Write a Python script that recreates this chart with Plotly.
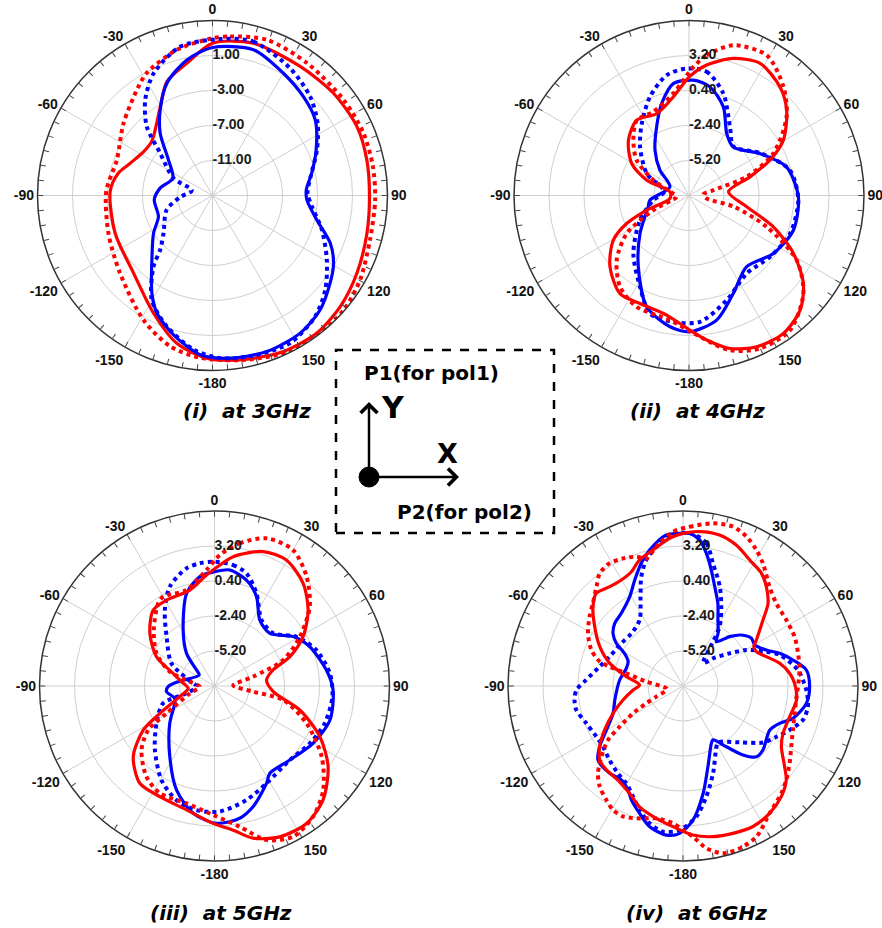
import plotly.graph_objects as go

# ---------------- data (theta in degrees, gain in dB) ----------------
# Panel (i) 3 GHz
p1_blue_solid_th = [-10.7, 0, 15.7, 30.1, 42.6, 53.6, 66.2, 77.3, 86.5, 92.6, 103.1, 112, 119.2, 126.7, 136.7, 147.5, 160.8, 173.8, -175.6, -164.4, -154.7, -148.2, -136.7, -122.6, -111.3, -94.2, -82, -66.4, -51, -40, -31.4, -22]
p1_blue_solid_r = [0.77, 1.91, 2.30, 1.15, 0.35, -0.41, -2.05, -3.38, -4.26, -4.2, -2.77, -0.49, 0.85, 1.76, 2.94, 3.65, 3.88, 3.7, 3.25, 1.53, -0.14, -1.86, -4.9, -7.0, -8.37, -8.33, -8.95, -10.05, -8.52, -5.7, -3.53, -1.13]
p1_blue_dot_th = [2.8, 14.9, 31.4, 44.6, 55.4, 66.4, 79, 88.6, 96.3, 107.4, 119.4, 129.9, 139.7, 152.3, 165.7, 177.3, -173, -160.8, -149.8, -140.3, -136, -127.5, -107.4, -93, -76, -66, -51, -43.6, -35.1, -25.7, -12.2]
p1_blue_dot_r = [2.9, 3.2, 2.03, 0.89, -0.41, -1.97, -3.57, -4.14, -3.57, -1.9, 0.0, 1.8, 3.13, 4.05, 3.9, 3.6, 2.75, 0.85, -1.2, -4.45, -6.4, -7.95, -9.5, -11.3, -12.56, -10.1, -7.3, -4.1, -1.63, 0.5, 2.41]
p1_red_solid_th = [0, 15, 34.2, 49.8, 64.5, 77, 90, 103.7, 118.3, 131, 142.8, 155.5, 170.4, -178, -166.4, -153.4, -134.5, -111.2, -87.6, -76.6, -68.6, -57.5, -48.3, -31.7, -21.8, -11]
p1_red_solid_r = [2.41, 3.02, 2.83, 3.1, 3.29, 3.1, 2.94, 3.17, 3.74, 4.35, 4.73, 4.58, 4.05, 3.6, 2.37, 0.05, -2.35, -3.07, -3.3, -3.95, -4.9, -5.67, -5.7, -3.5, -0.98, 0.4]
p1_red_dot_th = [0, 6.3, 19.2, 35.5, 53.9, 67.6, 79.7, 91.5, 105.7, 119.7, 131.1, 142, 155, 170, -175.7, -164.3, -151, -130, -109.9, -87.7, -69.6, -50.9, -34.2, -28.2, -13.8]
p1_red_dot_r = [2.98, 3.29, 3.85, 3.6, 3.55, 3.67, 3.63, 3.6, 3.7, 4.43, 4.9, 4.97, 4.8, 4.1, 3.6, 2.9, 1.27, -1.2, -2.35, -2.85, -3.34, -1.9, 0.05, 0.89, 2.14]

# Panel (ii) 4 GHz
p2_blue_solid_th = [2.2, 10.9, 21.2, 31.3, 42.3, 59.4, 73.6, 90.7, 108.4, 124.5, 141, 155.7, 167.5, 179.6, -171.8, -159.2, -144.6, -127.8, -105.6, -96.8, -65.5, -48.9, -36.9, -25.2, -16.5, -8]
p2_blue_solid_r = [1.23, 0.85, -0.4, -2.19, -2.75, -1.41, 0.13, 0.75, 0.8, 0.19, -0.67, 0.6, 2.21, 2.9, 2.61, 1.52, -1.0, -3.04, -4.61, -4.85, -6.32, -4.91, -3.47, -1.92, -0.32, 1.04]
p2_blue_dot_th = [-1, 8.1, 18.6, 30.8, 42.3, 59.4, 75.9, 92.4, 110.6, 127, 143.5, 160.2, 175, -172.9, -161.7, -151.8, -136.2, -116.7, -97.5, -81, -62.5, -45.2, -33.3, -21.6, -10.5]
p2_blue_dot_r = [2.16, 2.0, 0.61, -1.6, -2.7, -1.35, 0.32, 0.75, 0.64, 0.13, -0.24, 0.9, 2.14, 2.19, 1.95, 0.29, -1.57, -3.6, -5.12, -6.0, -4.19, -2.48, -1.12, 0.48, 1.79]
p2_red_solid_th = [0.5, 7.7, 17.9, 28.3, 40, 48.9, 59.6, 66.4, 73, 84.7, 101, 110.4, 119, 127.6, 135.9, 145.6, 155.9, 165, 173, 179.6, -169.4, -155.6, -144.9, -132, -120.6, -114.2, -109, -99, -79, -70, -60.8, -47.6, -34.8, -21.5, -9]
p2_red_solid_r = [1.55, 2.53, 3.52, 4.0, 3.33, 2.37, 0.75, -0.93, -2.9, -4.83, -3.3, -0.8, 1.55, 3.55, 4.77, 5.37, 5.26, 4.67, 3.65, 2.77, 1.73, 1.49, 1.6, 0.51, -0.96, -2.53, -4.43, -6.45, -6.45, -4.4, -2.75, -1.44, -0.67, -0.96, 0.0]
p2_red_dot_th = [2, 7.2, 16.4, 29, 41, 51.1, 63.5, 72, 77.6, 86, 99.6, 104, 112, 121, 130.6, 143.1, 155.1, 165.2, 178, -171.3, -154.8, -142.9, -131.8, -121.4, -112.4, -96, -84, -66.7, -56, -45.2, -34.8, -23, -8.7]
p2_red_dot_r = [2.3, 3.3, 4.53, 4.83, 3.52, 2.03, -0.45, -3.15, -6.0, -6.85, -6.56, -4.3, -1.3, 2.05, 4.05, 5.47, 5.49, 4.8, 3.04, 2.08, 1.84, 1.15, -0.24, -2.16, -4.9, -7.0, -6.75, -4.9, -2.95, -1.73, -0.67, -0.72, 0.26]

# Panel (iii) 5 GHz
p3_blue_solid_th = [0.2, 7.5, 16.8, 25.2, 34.5, 46.4, 57.9, 67.6, 81.9, 91.9, 106.4, 120.2, 134.5, 147.6, 151.9, 162.2, 169.2, 179.2, -170.5, -159.9, -147.7, -129.9, -113.6, -107, -96.7, -90.8, -83.2, -54.3, -48.4, -40.6, -29.2, -16.8, -7.6]
p3_blue_solid_r = [1.15, 1.36, 0.85, -0.1, -1.6, -1.89, -0.56, 0.24, 1.04, 1.49, 1.63, 1.12, 0.45, 0.27, 0.83, 2.13, 2.77, 2.99, 2.32, 0.85, -1.31, -3.33, -4.53, -4.67, -4.13, -4.29, -5.07, -6.49, -6.08, -4.56, -2.86, -0.27, 0.83]
p3_blue_dot_th = [-0.6, 8.8, 15.9, 24.4, 35.5, 48.1, 59, 70.6, 83.7, 95.2, 108.7, 121, 134.5, 151.9, 164.3, 177.6, -171.7, -161.6, -150.6, -137, -122.8, -108.7, -104.7, -92, -74.7, -62.2, -44.2, -33.2, -24.2, -13.4, -6.8]
p3_blue_dot_r = [1.95, 1.79, 1.36, 0.13, -1.52, -1.68, -0.35, 0.64, 1.28, 1.47, 1.31, 0.9, 0.45, 0.83, 1.47, 2.05, 2.03, 1.63, 0.64, -1.01, -2.48, -3.65, -5.68, -6.56, -5.68, -4.1, -2.5, -0.74, 0.72, 1.68, 1.89]
p3_red_solid_th = [-0.7, 8.2, 19.9, 29.7, 40.8, 50.9, 60.9, 68.7, 74.7, 83.4, 95.5, 105.7, 115.7, 125.4, 136.4, 146.2, 156.6, 165.8, 172.6, -179.4, -167.3, -153.7, -142.5, -131, -121.7, -116.6, -107, -95, -82.5, -73, -63.2, -50.8, -38.9, -29.2, -14.4, -4.1]
p3_red_solid_r = [1.28, 2.45, 3.44, 3.6, 2.85, 1.65, 0.11, -1.52, -3.15, -3.81, -3.28, -0.91, 1.36, 3.15, 4.59, 5.23, 5.15, 4.56, 3.63, 2.99, 2.16, 1.87, 1.81, 0.61, -1.31, -3.12, -5.09, -5.89, -5.33, -4.53, -2.8, -1.33, -0.19, -0.13, -0.08, 0.91]
p3_red_dot_th = [2.3, 10.1, 19.4, 30, 40.1, 50.2, 60, 69.3, 76.4, 88, 98.3, 101.5, 112.1, 123.4, 133.7, 142.9, 152.4, 161.3, 169.8, -179.4, -166.6, -153, -143.1, -131.2, -123.6, -119.7, -106.6, -92.6, -80, -72.2, -60.6, -47.3, -34.3, -29.9, -16.3, -3.9]
p3_red_dot_r = [2.48, 3.6, 4.53, 4.56, 3.44, 1.92, -0.11, -2.13, -4.83, -6.5, -4.88, -2.4, -0.05, 2.27, 4.03, 5.09, 5.6, 5.01, 3.44, 2.32, 1.65, 1.63, 1.07, -0.24, -1.63, -3.57, -5.95, -6.83, -6.0, -4.24, -2.67, -1.39, 0.0, 0.24, 0.0, 1.31]

# Panel (iv) 6 GHz
p4_blue_solid_th = [-1.3, 2.5, 6.5, 10, 13.7, 17.7, 22.9, 27.9, 33.6, 36.9, 43.4, 48.8, 55.1, 60.2, 66.6, 71.3, 76.7, 82.6, 90.3, 98, 106.4, 111.1, 116.9, 128.7, 134, 139, 144.5, 150.9, 153.7, 162.8, 169.4, 175.7, -178.7, -173.6, -166.7, -161.2, -155.6, -152.1, -146.7, -140, -131, -126, -119.9, -111.3, -101.6, -84.6, -72.7, -66.1, -60.8, -57.4, -53, -47.5, -40.3, -30.8, -24.5, -18.8, -13.8, -6.3]
p4_blue_solid_r = [4.21, 4.21, 3.76, 2.77, 1.55, 0.35, -0.83, -2.03, -2.93, -3.57, -2.56, -1.81, -1.33, -1.39, -0.75, 0.16, 1.04, 1.95, 2.13, 1.97, 1.17, 0.29, -0.21, 0.19, 0.16, -0.69, -2.03, -3.07, -2.88, -1.25, 0.75, 2.75, 3.79, 4.0, 3.57, 2.77, 2.0, 1.41, 0.99, 1.12, 1.01, 0.24, -0.93, -2.0, -2.43, -2.91, -3.25, -3.2, -2.64, -1.68, -0.99, -0.59, -0.37, 0.32, 1.31, 2.37, 3.2, 4.16]
p4_blue_dot_th = [3.1, 9.3, 13.7, 20.3, 25.8, 31.7, 34.6, 41.4, 47.3, 55, 60.4, 67.6, 72.2, 82.1, 91.9, 99.4, 105.8, 112.4, 118.5, 125.2, 134.8, 148.1, 151.2, 161, 168.1, 174.2, -178.7, -172.2, -166.4, -160.7, -155.7, -149.8, -143.3, -135.3, -127.2, -120.3, -111.1, -102.7, -97.4, -92.1, -86.4, -76.9, -68.2, -55.3, -44.5, -33.3, -25.4, -20.9, -16.2, -10.8, -5]
p4_blue_dot_r = [4.24, 3.57, 2.11, 0.48, -0.96, -2.43, -4.0, -5.57, -4.75, -3.44, -2.16, -0.8, 0.13, 1.28, 1.87, 2.13, 1.97, 1.23, 0.51, -0.16, -1.6, -2.69, -2.45, -0.61, 1.04, 2.51, 3.52, 3.76, 3.31, 2.51, 1.71, 1.01, 0.72, 0.35, 0.03, 0.03, 0.29, 0.75, 0.75, 0.53, -0.24, -1.15, -1.68, -2.0, -2.11, -1.68, -0.08, 1.36, 2.51, 3.36, 4.13]
p4_red_solid_th = [0, 6.2, 13.6, 20.7, 27.9, 34.8, 40, 45.8, 50.5, 53.9, 57.9, 60.9, 64.9, 70.6, 76.8, 83.2, 88.6, 97, 106, 115.3, 121.7, 128.4, 132.3, 138.4, 145.8, 153.5, 161.3, 168.7, 176.2, -175.9, -168.6, -160.2, -153.6, -145.3, -137.6, -131.6, -126, -119.3, -111.3, -103.1, -94.6, -88.7, -80.6, -72.8, -64.7, -56.1, -48.6, -43.1, -36.4, -30.2, -24.3, -19, -12.4, -5.2]
p4_red_solid_r = [4.21, 4.43, 4.43, 4.05, 3.41, 2.99, 2.37, 1.49, 0.29, -0.4, -1.07, -1.52, -1.52, -0.93, -0.05, 0.59, 0.93, 1.15, 0.88, 0.85, 1.25, 2.37, 3.17, 3.84, 4.32, 4.56, 4.45, 4.29, 3.95, 3.28, 2.8, 2.27, 1.6, 1.15, 1.09, 0.91, 0.24, -0.8, -2.0, -3.07, -4.0, -4.53, -3.41, -1.87, -0.64, 0.51, 1.6, 2.16, 1.87, 1.81, 2.03, 2.67, 3.15, 3.87]
p4_red_dot_th = [-3.7, 2.4, 10.4, 17.4, 23, 28.3, 33.1, 41.1, 48.5, 57.4, 66.2, 74.1, 82.2, 90.3, 95.4, 103.8, 111.8, 119.2, 125.9, 132.3, 137.5, 145.8, 154, 160.8, 166.6, 171.8, 176.2, 180, -175.8, -168.6, -161.9, -155.3, -150.6, -146.1, -140.4, -135.8, -130.9, -125.8, -122.7, -118.7, -115.3, -111.8, -100.6, -83.3, -77.4, -75.2, -73.7, -68.6, -61, -53.4, -47.4, -41.1, -36.5, -30.9, -25.2, -19.8, -16, -10.8]
p4_red_dot_r = [4.37, 4.75, 5.23, 5.36, 4.99, 4.37, 3.71, 2.53, 1.97, 1.81, 1.76, 1.57, 1.41, 1.2, 1.12, 1.2, 1.47, 1.92, 2.53, 3.17, 3.65, 4.32, 5.41, 5.76, 5.76, 5.12, 4.08, 3.52, 3.01, 2.8, 3.15, 3.49, 3.39, 2.99, 2.45, 1.76, 0.64, -0.61, -1.97, -3.44, -4.75, -5.71, -6.69, -5.04, -3.36, -1.92, -1.07, -0.13, 0.69, 1.31, 1.79, 2.53, 3.2, 3.44, 3.28, 2.99, 2.61, 3.36]

# axis settings
p1_range = [-15, 5]
p1_ticks = [-11, -7, -3, 1]
p1_ticktext = ["-11.00", "-7.00", "-3.00", "1.00"]
p234_range = [-8, 6]
p234_ticks = [-5.2, -2.4, 0.4, 3.2]
p234_ticktext = ["-5.20", "-2.40", "0.40", "3.20"]

ang_tickvals = list(range(0, 360, 5))
ang_labels = {0: "0", 30: "30", 60: "60", 90: "90", 120: "120", 150: "150", 180: "-180",
              210: "-150", 240: "-120", 270: "-90", 300: "-60", 330: "-30"}
spoke_angles = list(range(0, 360, 30))

titles = ["(i)\u00a0 at 3GHz", "(ii)\u00a0 at 4GHz", "(iii)\u00a0 at 5GHz", "(iv)\u00a0 at 6GHz"]

RED = "#ff0000"
BLUE = "#0000ff"

W, H = 882, 928
panels = [
    dict(name="polar", cx=212.5, cy=195.5, rng=p1_range, tv=p1_ticks, tt=p1_ticktext,
         curves=[(p1_red_solid_th, p1_red_solid_r, RED, "solid"), (p1_red_dot_th, p1_red_dot_r, RED, "dot"),
                 (p1_blue_solid_th, p1_blue_solid_r, BLUE, "solid"), (p1_blue_dot_th, p1_blue_dot_r, BLUE, "dot")]),
    dict(name="polar2", cx=689, cy=195.5, rng=p234_range, tv=p234_ticks, tt=p234_ticktext,
         curves=[(p2_blue_solid_th, p2_blue_solid_r, BLUE, "solid"), (p2_blue_dot_th, p2_blue_dot_r, BLUE, "dot"),
                 (p2_red_solid_th, p2_red_solid_r, RED, "solid"), (p2_red_dot_th, p2_red_dot_r, RED, "dot")]),
    dict(name="polar3", cx=214.5, cy=686, rng=p234_range, tv=p234_ticks, tt=p234_ticktext,
         curves=[(p3_blue_solid_th, p3_blue_solid_r, BLUE, "solid"), (p3_blue_dot_th, p3_blue_dot_r, BLUE, "dot"),
                 (p3_red_solid_th, p3_red_solid_r, RED, "solid"), (p3_red_dot_th, p3_red_dot_r, RED, "dot")]),
    dict(name="polar4", cx=683, cy=686, rng=p234_range, tv=p234_ticks, tt=p234_ticktext,
         curves=[(p4_blue_solid_th, p4_blue_solid_r, BLUE, "solid"), (p4_blue_dot_th, p4_blue_dot_r, BLUE, "dot"),
                 (p4_red_solid_th, p4_red_solid_r, RED, "solid"), (p4_red_dot_th, p4_red_dot_r, RED, "dot")]),
]
RAD = 175

fig = go.Figure()
layout_polars = {}
for p in panels:
    # spokes
    sth, sr = [], []
    for a in spoke_angles:
        sth += [a, a, None]
        sr += [p["rng"][0], p["rng"][1], None]
    fig.add_trace(go.Scatterpolar(theta=sth, r=sr, mode="lines", subplot=p["name"],
                                  line=dict(color="#cfcfcf", width=1), hoverinfo="skip", showlegend=False))
    for th, r, col, dash in p["curves"]:
        fig.add_trace(go.Scatterpolar(theta=th + th[:1], r=r + r[:1], mode="lines", subplot=p["name"],
                                      line=dict(color=col, width=3.2 if dash == "solid" else 4, dash=dash,
                                                shape="spline", smoothing=0.8),
                                      showlegend=False))
    # radial tick labels drawn as text at theta = 0
    fig.add_trace(go.Scatterpolar(theta=[0] * len(p["tv"]), r=p["tv"], text=p["tt"], mode="text",
                                  textposition="middle right", subplot=p["name"], hoverinfo="skip",
                                  textfont=dict(family="Liberation Sans", size=14, color="#1a1a1a", weight="bold"),
                                  showlegend=False))
    layout_polars[p["name"]] = dict(
        domain=dict(x=[(p["cx"] - RAD) / W, (p["cx"] + RAD) / W],
                    y=[1 - (p["cy"] + RAD) / H, 1 - (p["cy"] - RAD) / H]),
        bgcolor="white",
        radialaxis=dict(range=p["rng"], tickvals=p["tv"], ticktext=p["tt"], angle=90,
                        showline=False, ticks="", showticklabels=False, gridcolor="#cfcfcf", gridwidth=1),
        angularaxis=dict(rotation=90, direction="clockwise", tickmode="array", tickvals=ang_tickvals,
                         ticktext=[ang_labels.get(v, "") for v in ang_tickvals],
                         ticks="inside", ticklen=5, tickcolor="#444", tickwidth=1,
                         showgrid=False, showline=True, linecolor="#333", linewidth=1.5,
                         tickfont=dict(family="Liberation Sans", size=14, color="#111", weight="bold")),
    )

fig.update_layout(width=W, height=H, margin=dict(l=0, r=0, t=0, b=0),
                  paper_bgcolor="white", plot_bgcolor="white", showlegend=False, **layout_polars)

# titles
title_pos = [(247.5, 411), (697, 411), (221, 913), (696, 913)]
for t, (x, y) in zip(titles, title_pos):
    fig.add_annotation(x=x / W, y=1 - y / H, xref="paper", yref="paper", text="<b><i>" + t + "</i></b>",
                       showarrow=False, font=dict(family="DejaVu Sans", size=20, color="black"),
                       xanchor="center", yanchor="middle")

# center legend box
fig.add_shape(type="rect", xref="paper", yref="paper", x0=336 / W, x1=554 / W, y0=1 - 533 / H, y1=1 - 350 / H,
              line=dict(color="black", width=2.5, dash="dash"))
fig.add_shape(type="circle", xref="paper", yref="paper", x0=359 / W, x1=379 / W, y0=1 - 487 / H, y1=1 - 467 / H,
              fillcolor="black", line=dict(color="black", width=1))
fig.add_annotation(x=369 / W, y=1 - 402 / H, xref="paper", yref="paper", ax=0, ay=75, text="",
                   showarrow=True, arrowhead=4, arrowsize=1.3, arrowwidth=2.5, arrowcolor="black")
fig.add_annotation(x=459 / W, y=1 - 477 / H, xref="paper", yref="paper", ax=-90, ay=0, text="",
                   showarrow=True, arrowhead=4, arrowsize=1.3, arrowwidth=2.5, arrowcolor="black")
box_texts = [("<b>P1(for pol1)</b>", 362, 373, 20, "left"), ("<b>P2(for pol2)</b>", 395, 512, 20, "left"),
             ("<b>Y</b>", 393, 407, 30, "center"), ("<b>X</b>", 447, 453, 27, "center")]
for t, x, y, s, xa in box_texts:
    fig.add_annotation(x=x / W, y=1 - y / H, xref="paper", yref="paper", text=t, showarrow=False,
                       font=dict(family="DejaVu Sans", size=s, color="black"), xanchor=xa, yanchor="middle")

fig.write_html("out.html")
